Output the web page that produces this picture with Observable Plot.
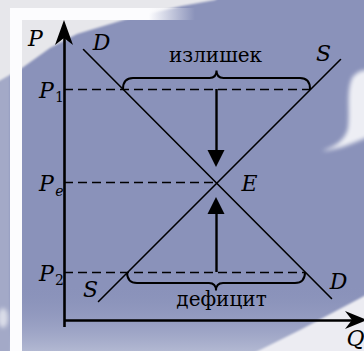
<!DOCTYPE html>
<html><head><meta charset="utf-8">
<script src="https://cdn.jsdelivr.net/npm/d3@7"></script>
<script src="https://cdn.jsdelivr.net/npm/@observablehq/plot@0.6"></script>
<style>
html,body{margin:0;padding:0;background:#8a92ba;}
#wrap{position:relative;width:364px;height:351px;overflow:hidden;}
#bg{position:absolute;left:0;top:0;}
#chart{position:absolute;left:0;top:0;}
#chart svg text{font-family:"DejaVu Serif",serif !important;}
</style></head><body>
<div id="wrap">
<svg id="bg" width="364" height="351" viewBox="0 0 364 351">
<defs>
<linearGradient id="bot" x1="0" y1="0" x2="0" y2="1">
<stop offset="0" stop-color="#8a92ba" stop-opacity="0"/>
<stop offset="1" stop-color="#b2b8d2"/>
</linearGradient>
<linearGradient id="band" x1="0" y1="0" x2="1" y2="0">
<stop offset="0.75" stop-color="#fcfcfe"/>
<stop offset="1" stop-color="#fcfcfe" stop-opacity="0"/>
</linearGradient>
<filter id="b2" x="-20%" y="-20%" width="140%" height="140%"><feGaussianBlur stdDeviation="2"/></filter>
<filter id="b1" x="-20%" y="-20%" width="140%" height="140%"><feGaussianBlur stdDeviation="1.2"/></filter>
</defs>
<rect width="364" height="351" fill="#8a92ba"/>
<rect x="0" y="285" width="364" height="66" fill="url(#bot)"/>
<rect x="-5" y="0" width="15" height="360" fill="#a3a9c7" filter="url(#b1)"/>
<path d="M-20,-20 H240 L215,0 L182,6 L130,18 L77,34 L50,48 L22,68 L-20,92 Z" fill="#e7e7eb" filter="url(#b1)"/>
<rect x="10" y="8" width="12" height="360" fill="#fcfcfe"/>
<rect x="10" y="8" width="185" height="12" fill="url(#band)"/>
<path d="M352,78 C358,70 364,70 370,70 L370,136 C352,144 336,150 322,151 C336,146 345,140 348,128 C350,110 346,92 352,78 Z" fill="#ffffff" opacity="0.85" filter="url(#b2)"/>
<path d="M240,360 L300,330 L370,293 L370,360 Z" fill="#ececf2" filter="url(#b1)"/>
<ellipse cx="3" cy="318" rx="5" ry="10" fill="#ffffff" opacity="0.6" filter="url(#b2)"/>
</svg>
<div id="chart"></div>
</div>
<script>
// ---- data (Q = quantity, P = price, in diagram units) ----
const priceLevels = [231, 138, 48];          // P1, Pe, P2
const priceSubscripts = ["1", "e", "2"];
const demandQ = [19, 267];
const demandP = [271, 22];
const supplyQ = [34, 276];
const supplyP = [19, 261];
const equilibriumQ = 152;
const equilibriumP = 138;
const surplusQ = [59, 246];   // Qd, Qs at P1
const deficitQ = [63, 241];   // Qs, Qd at P2
const surplusArrowTipP = 153;
const deficitArrowTipP = 123;
const axisTopP = 300;
const axisRightQ = 303;
const curveLabels = ["D", "S", "D", "S", "E"];
const curveLabelQ = [37, 259, 274, 26, 185];
const curveLabelP = [271, 260, 32, 24, 130];
const gapLabels = ["излишек", "дефицит"];
const gapLabelQ = [151, 157];
const gapLabelP = [259, 15];

const demand = demandQ.map((q, i) => ({q, p: demandP[i]}));
const supply = supplyQ.map((q, i) => ({q, p: supplyP[i]}));
const P1 = priceLevels[0], Pe = priceLevels[1], P2 = priceLevels[2];
const dashEnds = [surplusQ[1], equilibriumQ, deficitQ[1]];
const curveLab = curveLabels.map((t, i) => ({t, q: curveLabelQ[i], p: curveLabelP[i]}));
const gapLab = gapLabels.map((t, i) => ({t, q: gapLabelQ[i], p: gapLabelP[i]}));

const serif = "DejaVu Serif";

function decorations(index, scales) {
  const x = scales.x, y = scales.y;
  const g = d3.create("svg:g");
  function brace(q1, q2, p, dir) {
    const x1 = x(q1), x2 = x(q2), y0 = y(p), xm = (x1 + x2) / 2;
    const yb = y0 + dir * 11, yt = yb + dir * 7.5, r = 10;
    return `M${x1},${y0} Q${x1},${yb} ${x1 + r},${yb} L${xm - 7},${yb} Q${xm},${yb} ${xm},${yt} ` +
           `Q${xm},${yb} ${xm + 7},${yb} L${x2 - r},${yb} Q${x2},${yb} ${x2},${y0}`;
  }
  g.append("path").attr("d", brace(surplusQ[0], surplusQ[1], P1, -1))
    .attr("fill", "none").attr("stroke", "black").attr("stroke-width", 2);
  g.append("path").attr("d", brace(deficitQ[0], deficitQ[1], P2, 1))
    .attr("fill", "none").attr("stroke", "black").attr("stroke-width", 2);
  const tx = x(0), ty = y(axisTopP);
  g.append("path").attr("d", `M${tx},${ty} L${tx - 9},${ty + 25} L${tx},${ty + 18} L${tx + 9},${ty + 25} Z`).attr("fill", "black");
  const rx = x(axisRightQ), ry = y(0);
  g.append("path").attr("d", `M${rx},${ry} L${rx - 22},${ry - 9} L${rx - 15},${ry} L${rx - 22},${ry + 9} Z`).attr("fill", "black");
  const ax = x(equilibriumQ);
  const dy1 = y(surplusArrowTipP);
  g.append("path").attr("d", `M${ax},${dy1} L${ax - 8.5},${dy1 - 17} L${ax + 8.5},${dy1 - 17} Z`).attr("fill", "black");
  const dy2 = y(deficitArrowTipP);
  g.append("path").attr("d", `M${ax},${dy2} L${ax - 8.5},${dy2 + 17} L${ax + 8.5},${dy2 + 17} Z`).attr("fill", "black");
  return g.node();
}

const chart = Plot.plot({
  width: 364,
  height: 351,
  margin: 0,
  x: {domain: [-64, 300], axis: null},
  y: {domain: [-31, 320], axis: null},
  style: {background: "transparent", overflow: "visible", fontFamily: serif},
  marks: [
    Plot.ruleY(priceLevels, {x1: 0, x2: (d, i) => dashEnds[i], stroke: "black", strokeWidth: 1.6, strokeDasharray: "9,5"}),
    Plot.line(demand, {x: "q", y: "p", stroke: "black", strokeWidth: 1.6}),
    Plot.line(supply, {x: "q", y: "p", stroke: "black", strokeWidth: 1.6}),
    Plot.ruleX([0], {y1: -7, y2: axisTopP - 10, stroke: "black", strokeWidth: 2.6}),
    Plot.ruleY([0], {x1: 0, x2: axisRightQ - 10, stroke: "black", strokeWidth: 2.6}),
    Plot.ruleX([equilibriumQ], {y1: P1, y2: surplusArrowTipP + 10, stroke: "black", strokeWidth: 2.4}),
    Plot.ruleX([equilibriumQ], {y1: P2, y2: deficitArrowTipP - 10, stroke: "black", strokeWidth: 2.4}),
    decorations,
    Plot.text(["P"], {x: -29, y: 275, text: d => d, fontStyle: "italic", fontSize: 22, lineAnchor: "bottom", fill: "black"}),
    Plot.text(["Q"], {x: 282, y: -25, text: d => d, fontStyle: "italic", fontSize: 22, lineAnchor: "bottom", textAnchor: "start", fill: "black"}),
    Plot.text(priceLevels, {x: -18, y: d => d, dy: 8, text: () => "P", fontStyle: "italic", fontSize: 22, lineAnchor: "bottom", fill: "black"}),
    Plot.text([P1, P2], {x: -5, y: d => d, dy: 12, text: (d, i) => [priceSubscripts[0], priceSubscripts[2]][i], fontSize: 14, lineAnchor: "bottom", fill: "black"}),
    Plot.text([Pe], {x: -5, y: d => d, dy: 13, text: () => priceSubscripts[1], fontStyle: "italic", fontSize: 14, lineAnchor: "bottom", fill: "black"}),
    Plot.text(curveLab, {x: "q", y: "p", text: "t", fontStyle: "italic", fontSize: 22, lineAnchor: "bottom", fill: "black"}),
    Plot.text(gapLab, {x: "q", y: "p", text: "t", fontSize: 20, lineAnchor: "bottom", fill: "black"})
  ]
});
document.getElementById("chart").appendChild(chart);
</script>
</body></html>
